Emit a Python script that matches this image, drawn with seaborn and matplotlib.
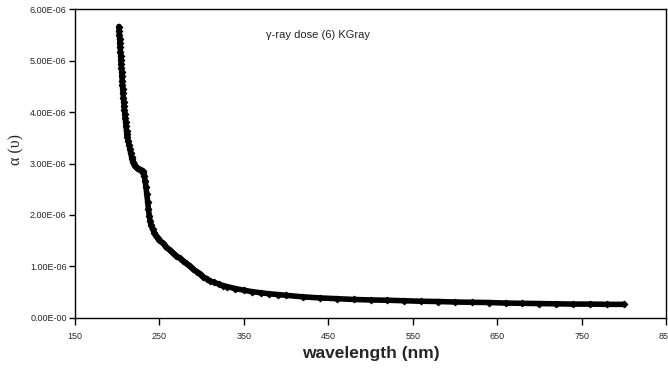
import matplotlib
matplotlib.use("Agg")
import matplotlib.pyplot as plt
import seaborn as sns
import pandas as pd

# valori (lungime de unda in nm, alfa in unitati de 1e-6)
wavelength = [202.0, 202.3, 202.6, 202.9, 203.2, 203.5, 203.8, 204.1, 204.4, 204.7,
              205.0, 205.3, 205.6, 205.9, 206.2, 206.5, 206.9, 207.3, 207.7, 208.1,
              208.5, 209, 209.5, 210, 210.5, 211, 211.5, 212, 213, 214,
              215, 216, 217, 218, 219, 220, 221, 222, 224, 226,
              228, 230, 231, 232, 233, 234, 235, 236, 237, 238,
              239, 240, 242, 244, 246, 248, 250, 254, 258, 262,
              266, 270, 274, 278, 282, 286, 290, 294, 298, 302,
              306, 310, 315, 320, 325, 330, 340, 350, 360, 370,
              380, 390, 400, 420, 440, 460, 480, 500, 520, 540,
              560, 580, 600, 620, 640, 660, 680, 700, 720, 740,
              760, 780, 800]
alpha_e6 = [5.66, 5.57, 5.49, 5.42, 5.34, 5.26, 5.17, 5.09, 5.01, 4.93,
            4.85, 4.78, 4.69, 4.60, 4.53, 4.45, 4.37, 4.28, 4.20, 4.12,
            4.04, 3.96, 3.88, 3.80, 3.72, 3.64, 3.57, 3.51, 3.44, 3.36,
            3.28, 3.20, 3.13, 3.08, 3.03, 2.99, 2.96, 2.94, 2.91, 2.89,
            2.87, 2.85, 2.82, 2.76, 2.66, 2.55, 2.41, 2.26, 2.11, 1.98,
            1.88, 1.80, 1.72, 1.66, 1.60, 1.55, 1.51, 1.45, 1.38, 1.32,
            1.26, 1.21, 1.16, 1.11, 1.06, 1.00, 0.95, 0.90, 0.86, 0.80,
            0.76, 0.72, 0.69, 0.66, 0.63, 0.61, 0.57, 0.54, 0.51, 0.49,
            0.47, 0.455, 0.44, 0.41, 0.39, 0.375, 0.36, 0.35, 0.345, 0.335,
            0.325, 0.32, 0.31, 0.305, 0.30, 0.29, 0.285, 0.28, 0.275, 0.27,
            0.27, 0.265, 0.265]

x_ticks = [150, 250, 350, 450, 550, 650, 750, 850]
y_ticks = [0, 1e-6, 2e-6, 3e-6, 4e-6, 5e-6, 6e-6]
y_tick_labels = ["0.00E-00", "1.00E-06", "2.00E-06", "3.00E-06",
                 "4.00E-06", "5.00E-06", "6.00E-06"]

df = pd.DataFrame({"wl": wavelength, "alpha": [v * 1e-6 for v in alpha_e6]})

sns.set_style("ticks")
plt.rcParams["font.family"] = ["Liberation Sans", "DejaVu Sans"]

fig = plt.figure(figsize=(6.68, 3.68), dpi=100)
ax = fig.add_axes([0.1123, 0.1359, 0.8847, 0.8396])

sns.lineplot(data=df, x="wl", y="alpha", ax=ax, color="black", linewidth=4.0,
             marker="D", markersize=3.4, markeredgecolor="black", estimator=None)

ax.set_xlim(150, 850)
ax.set_ylim(0, 6e-6)
ax.set_xticks(x_ticks)
ax.set_xticklabels([str(t) for t in x_ticks], fontsize=6.5)
ax.set_yticks(y_ticks)
ax.set_yticklabels(y_tick_labels, fontsize=6.5)
ax.tick_params(axis="y", direction="out", length=4, width=1, color="black", pad=2)
ax.tick_params(axis="x", direction="out", length=5, width=1, color="black", pad=5)

for s in ax.spines.values():
    s.set_visible(True)
    s.set_linewidth(1.0)
    s.set_color("black")

ax.set_xlabel("wavelength (nm)", fontsize=12.5, fontweight="bold", labelpad=4)
ax.set_ylabel("α (υ)", fontsize=11.5, family=["Liberation Serif", "DejaVu Serif"])
ax.yaxis.set_label_coords(-0.086, 0.545)

ax.text(376, 5.5e-6, "γ-ray dose (6) KGray", fontsize=8, ha="left", va="center", color="#222222")

fig.savefig("out.png", dpi=100)
